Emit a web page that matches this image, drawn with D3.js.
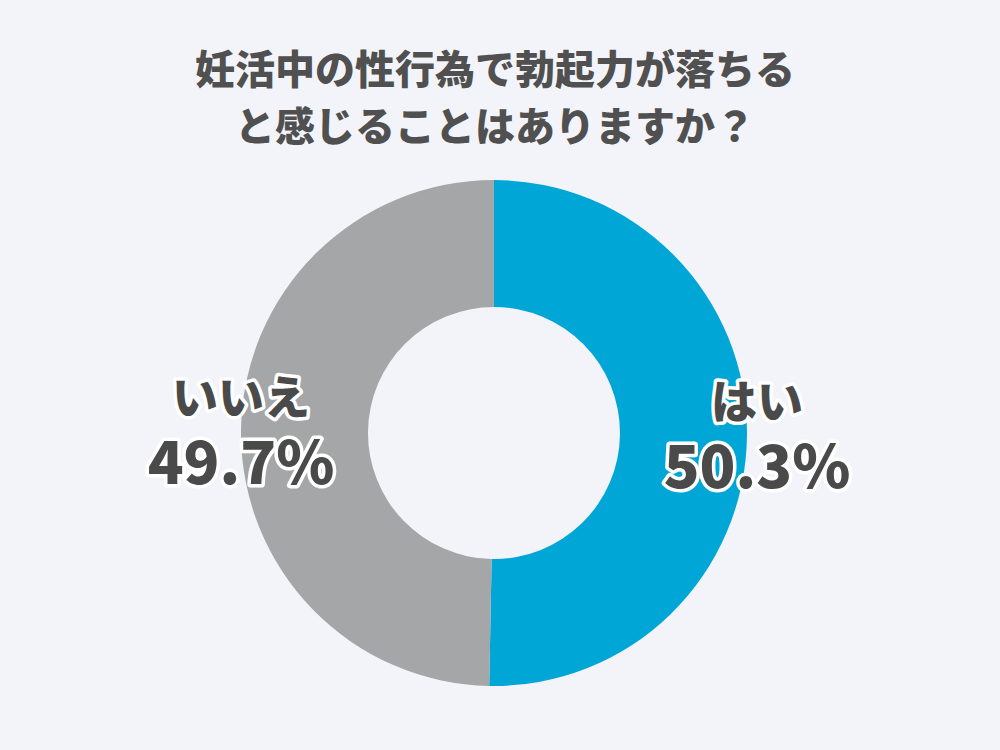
<!DOCTYPE html>
<html>
<head>
<meta charset="utf-8">
<script src="https://cdn.jsdelivr.net/npm/d3@7"></script>
<style>
  body { margin: 0; background: #f3f4fa; }
  svg { display: block; }
</style>
</head>
<body>
<div id="chart"></div>
<script>
// data
const titleLines = ["妊活中の性行為で勃起力が落ちる", "と感じることはありますか？"];
const categories = ["はい", "いいえ"];
const values = [50.3, 49.7];
const colors = ["#00a6d6", "#a5a6a7"];

const width = 1000;
const height = 750;
const cx = 494;
const cy = 433;
const outerR = 253;
const innerR = 126;
const labelR = 258;

const svg = d3.select("#chart")
  .append("svg")
  .attr("width", width)
  .attr("height", height)
  .style("background", "#f3f4fa");

// title
svg.append("g")
  .selectAll("text")
  .data(titleLines)
  .enter()
  .append("text")
  .attr("x", 495)
  .attr("y", (d, i) => 84 + i * 57)
  .attr("text-anchor", "middle")
  .style("font-family", "'Noto Sans CJK JP', sans-serif")
  .style("font-weight", 900)
  .style("font-size", "40px")
  .style("fill", "#505050")
  .text(d => d);

// donut
const pie = d3.pie().sort(null).value(d => d);
const arcs = pie(values);
const arc = d3.arc().innerRadius(innerR).outerRadius(outerR);
const labelArc = d3.arc().innerRadius(labelR).outerRadius(labelR);

const g = svg.append("g").attr("transform", `translate(${cx},${cy})`);

g.selectAll("path")
  .data(arcs)
  .enter()
  .append("path")
  .attr("d", arc)
  .attr("fill", (d, i) => colors[i]);

// labels
const lab = g.selectAll("g.lab")
  .data(arcs)
  .enter()
  .append("g")
  .attr("class", "lab")
  .attr("transform", d => {
    const [x, y] = labelArc.centroid(d);
    return `translate(${x + 5},${y})`;
  });

const textStyle = sel => sel
  .attr("text-anchor", "middle")
  .style("font-family", "'Noto Sans CJK JP', sans-serif")
  .style("font-weight", 900)
  .style("fill", "#4a4a4a")
  .style("stroke", "#ffffff")
  .style("stroke-width", "7px")
  .style("stroke-linejoin", "round")
  .style("paint-order", "stroke");

lab.append("text")
  .call(textStyle)
  .attr("y", -17)
  .style("font-size", "46px")
  .text((d, i) => categories[i]);

lab.append("text")
  .call(textStyle)
  .attr("y", 53)
  .style("font-size", "59px")
  .text(d => d.value.toFixed(1) + "%");
</script>
</body>
</html>
